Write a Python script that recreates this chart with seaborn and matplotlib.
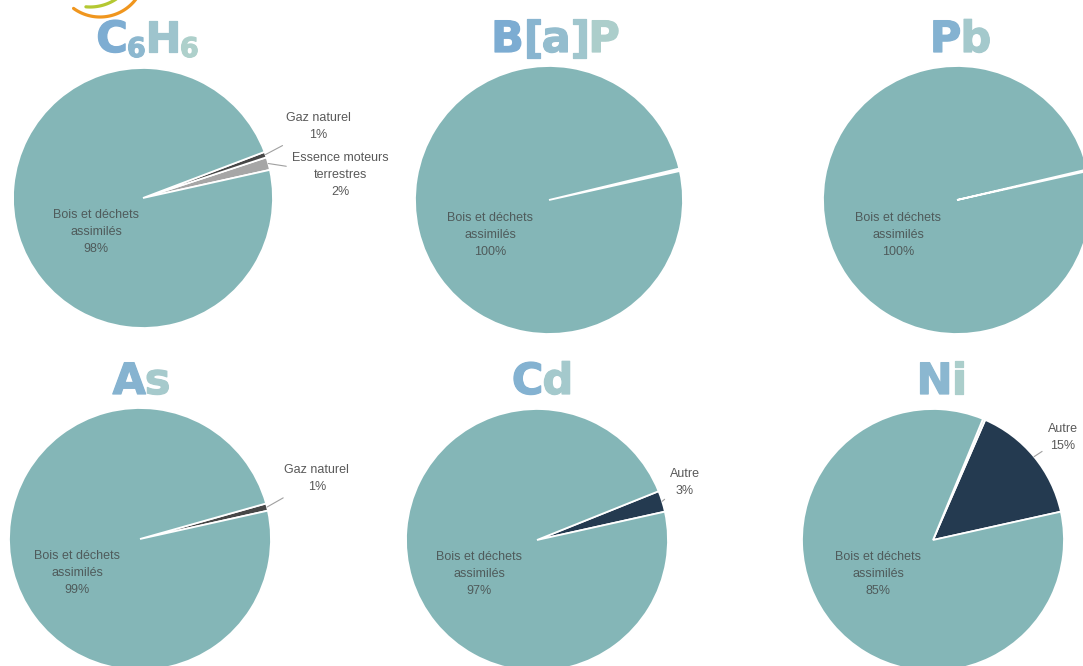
import numpy as np
import matplotlib
matplotlib.use("Agg")
import matplotlib.pyplot as plt
import matplotlib.patheffects as pe
import seaborn as sns

sns.set_theme(style="white")
plt.rcParams["font.family"] = ["Liberation Sans", "DejaVu Sans"]

W, H = 1083, 666

# ---- data (share of emissions, %) ----
C6H6_LABELS = ["Essence moteurs\nterrestres", "Gaz naturel", "Bois et déchets\nassimilés"]
C6H6_VALUES = [1.6, 0.7, 97.7]

BAP_LABELS = ["Autre", "Gaz naturel", "Bois et déchets\nassimilés"]
BAP_VALUES = [0.15, 0.15, 99.7]

PB_LABELS = ["Autre", "Bois et déchets\nassimilés"]
PB_VALUES = [0.2, 99.8]

AS_LABELS = ["Gaz naturel", "Bois et déchets\nassimilés"]
AS_VALUES = [0.9, 99.1]

CD_LABELS = ["Autre", "Bois et déchets\nassimilés"]
CD_VALUES = [2.6, 97.4]

NI_LABELS = ["Autre", "Gaz naturel", "Bois et déchets\nassimilés"]
NI_VALUES = [15.0, 0.3, 84.7]

TEAL = "#84b6b7"
COLORS = {
    "Bois et déchets\nassimilés": TEAL,
    "Gaz naturel": "#474747",
    "Essence moteurs\nterrestres": "#a6a6a6",
    "Autre": "#243a50",
}
SLIVER = {"BAP": ["#9fb3b5", "#2b3640"], "NI": ["#243a50", "#d5dcdc"]}

TEXT_GREY = "#595959"

fig = plt.figure(figsize=(W / 100, H / 100), dpi=100)
fig.patch.set_facecolor("white")

# overlay axes in pixel coordinates for titles / logo
ov = fig.add_axes([0, 0, 1, 1], zorder=5)
ov.set_xlim(0, W)
ov.set_ylim(H, 0)
ov.axis("off")
ov.patch.set_alpha(0)


def pie_at(cx, cy, r, labels, values, colors, outside, main_xy=(-0.44, -0.26)):
    """Pie centred at pixel (cx, cy) with radius r (pixels)."""
    ax = fig.add_axes([(cx - r) / W, 1 - (cy + r) / H, 2 * r / W, 2 * r / H])
    wedges, _ = ax.pie(
        values, colors=colors, startangle=12.5, counterclock=True, radius=1,
        wedgeprops=dict(edgecolor="white", linewidth=1.3),
    )
    ax.set_xlim(-1, 1)
    ax.set_ylim(-1, 1)
    ax.axis("off")

    # main slice label inside
    main = labels[-1]
    ax.text(main_xy[0], main_xy[1], f"{main}\n{values[-1]:.0f}%",
            ha="center", va="center", fontsize=9, color="#4f5b5b",
            linespacing=1.55)

    # small slices with leader lines
    for name, (tx, ty) in outside.items():
        i = labels.index(name)
        w = wedges[i]
        mid = np.deg2rad((w.theta1 + w.theta2) / 2)
        ax.annotate(
            f"{name}\n{values[i]:.0f}%",
            xy=(np.cos(mid), np.sin(mid)), xytext=(tx, ty),
            ha="center", va="center", fontsize=9, color=TEXT_GREY,
            linespacing=1.55, annotation_clip=False,
            arrowprops=dict(arrowstyle="-", color="#a0a0a0", lw=0.8,
                            shrinkA=2, shrinkB=0),
        )
    return ax


def title_at(parts, cx, base_y, size=31):
    renderer = fig.canvas.get_renderer()
    start = np.array([0x74, 0xa6, 0xd3]) / 255
    end = np.array([0xb4, 0xd4, 0xca]) / 255
    arts = []
    for s, sub in parts:
        t = ov.text(0, base_y + (5 if sub else 0), s,
                    fontsize=size * (0.63 if sub else 1),
                    fontweight="bold", family="DejaVu Sans",
                    va="baseline", ha="left")
        arts.append(t)
    widths = [t.get_window_extent(renderer).width - 1 for t in arts]
    total = sum(widths)
    x = cx - total / 2
    acc = 0
    for t, w in zip(arts, widths):
        frac = (acc + w / 2) / total
        c = start + (end - start) * frac
        t.set_color(c)
        t.set_path_effects([pe.withStroke(linewidth=0.9, foreground=c)])
        t.set_x(x + acc)
        acc += w


col = lambda labels, extra=None: [COLORS[l] for l in labels] if extra is None else extra + [TEAL]

pie_at(143, 198, 130, C6H6_LABELS, C6H6_VALUES, col(C6H6_LABELS),
       {"Gaz naturel": (1.35, 0.55), "Essence moteurs\nterrestres": (1.52, 0.18)},
       main_xy=(-0.36, -0.26))
pie_at(549, 200, 134, BAP_LABELS, BAP_VALUES, col(BAP_LABELS, SLIVER["BAP"]), {})
pie_at(957, 200, 134, PB_LABELS, PB_VALUES, ["#d5dcdc", TEAL], {})
pie_at(140, 539, 131, AS_LABELS, AS_VALUES, col(AS_LABELS),
       {"Gaz naturel": (1.35, 0.46)}, main_xy=(-0.48, -0.26))
pie_at(537, 540, 131, CD_LABELS, CD_VALUES, col(CD_LABELS),
       {"Autre": (1.13, 0.44)})
pie_at(933, 540, 131, NI_LABELS, NI_VALUES, col(NI_LABELS, SLIVER["NI"]),
       {"Autre": (0.99, 0.78)}, main_xy=(-0.42, -0.26))

title_at([("C", False), ("6", True), ("H", False), ("6", True)], 147, 52)
title_at([("B", False), ("[", False), ("a", False), ("]", False), ("P", False)], 555, 52)
title_at([("P", False), ("b", False)], 960, 52)
title_at([("A", False), ("s", False)], 141, 394)
title_at([("C", False), ("d", False)], 542, 394)
title_at([("N", False), ("i", False)], 941, 394)

# logo fragment, top-left
t = np.deg2rad(np.linspace(35, 126, 60))
ov.plot(100 + 45 * np.cos(t), -28 + 45 * np.sin(t), color="#f0961e", lw=2.3,
        solid_capstyle="round")
t = np.deg2rad(np.linspace(48, 95, 40))
ov.plot(90 + 47 * np.cos(t), -40 + 47 * np.sin(t), color="#b4c832", lw=2.3,
        solid_capstyle="round")

fig.savefig("out.png", dpi=100)
plt.close(fig)
